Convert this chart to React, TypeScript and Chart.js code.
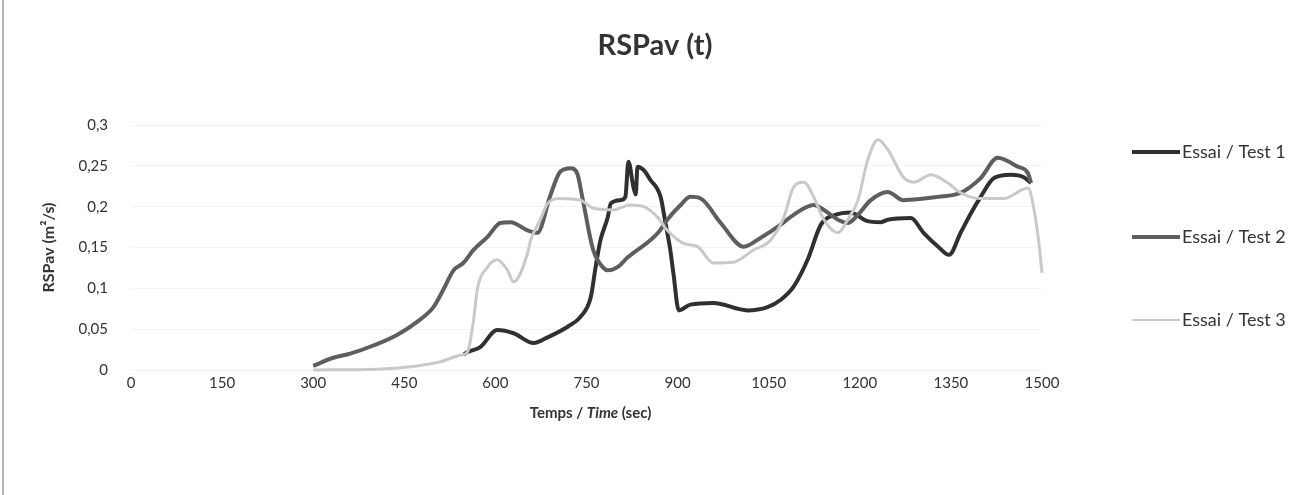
import React, { useEffect, useRef } from "react";
import { Chart, registerables } from "chart.js";

Chart.register(...registerables);

const FONT = "Lato, 'Open Sans', sans-serif";

const chartTitle = "RSPav (t)";
const seriesNames = ["Essai / Test 1", "Essai / Test 2", "Essai / Test 3"];
const seriesColors = ["#303030", "#5e5e5e", "#c9c9c9"];
const seriesWidths = [4, 4, 3];

const xTickValues = [0, 150, 300, 450, 600, 750, 900, 1050, 1200, 1350, 1500];
const yTickValues = [0, 0.05, 0.1, 0.15, 0.2, 0.25, 0.3];

const time1 = [548, 554, 575, 603, 630, 663, 686, 719, 740, 757, 765, 773, 785, 790, 806, 814, 819, 827, 831, 834, 844, 855, 872, 880, 888, 893, 902, 921, 959, 1015, 1048, 1070, 1091, 1114, 1136, 1160, 1185, 1210, 1235, 1246, 1284, 1305, 1329, 1347, 1366, 1383, 1399, 1421, 1449, 1470, 1482];
const test1 = [0.019, 0.022, 0.028, 0.049, 0.045, 0.033, 0.04, 0.053, 0.065, 0.089, 0.126, 0.159, 0.187, 0.204, 0.208, 0.212, 0.255, 0.225, 0.215, 0.249, 0.245, 0.233, 0.212, 0.18, 0.147, 0.119, 0.073, 0.08, 0.082, 0.073, 0.077, 0.086, 0.102, 0.135, 0.178, 0.19, 0.193, 0.183, 0.181, 0.184, 0.186, 0.168, 0.151, 0.141, 0.168, 0.192, 0.212, 0.235, 0.239, 0.236, 0.229];

const time2 = [300, 333, 361, 399, 438, 471, 498, 514, 531, 547, 564, 587, 608, 625, 653, 669, 691, 707, 724, 735, 743, 761, 778, 785, 801, 818, 855, 869, 883, 905, 921, 938, 971, 1009, 1037, 1070, 1091, 1124, 1141, 1164, 1180, 1197, 1218, 1246, 1272, 1329, 1366, 1399, 1427, 1460, 1477, 1482];
const test2 = [0.005, 0.015, 0.02, 0.03, 0.043, 0.059, 0.077, 0.098, 0.122, 0.131, 0.147, 0.163, 0.18, 0.181, 0.171, 0.168, 0.215, 0.243, 0.247, 0.24, 0.212, 0.147, 0.125, 0.122, 0.126, 0.138, 0.159, 0.169, 0.184, 0.202, 0.212, 0.21, 0.18, 0.151, 0.162, 0.178, 0.19, 0.202, 0.196, 0.184, 0.18, 0.19, 0.208, 0.218, 0.208, 0.212, 0.217, 0.235, 0.26, 0.249, 0.241, 0.229];

const time3 = [300, 405, 460, 509, 542, 554, 564, 570, 587, 603, 620, 630, 653, 658, 674, 686, 707, 740, 761, 794, 822, 844, 867, 883, 910, 933, 959, 992, 1025, 1053, 1075, 1091, 1108, 1124, 1141, 1164, 1180, 1197, 1213, 1230, 1246, 1272, 1289, 1317, 1345, 1366, 1399, 1437, 1477, 1487, 1495, 1500];
const test3 = [0, 0.001, 0.004, 0.01, 0.018, 0.022, 0.061, 0.098, 0.126, 0.135, 0.122, 0.108, 0.143, 0.159, 0.184, 0.204, 0.21, 0.208, 0.198, 0.196, 0.202, 0.2, 0.187, 0.171, 0.155, 0.151, 0.131, 0.132, 0.147, 0.159, 0.187, 0.224, 0.23, 0.212, 0.184, 0.168, 0.184, 0.208, 0.257, 0.282, 0.27, 0.236, 0.23, 0.239, 0.229, 0.217, 0.21, 0.21, 0.223, 0.196, 0.155, 0.119];

const times = [time1, time2, time3];
const values = [test1, test2, test3];

const fmt = (v: number) => String(Math.round(v * 100) / 100).replace(".", ",");

const titlePlugin = {
  id: "centeredTitle",
  afterDraw(chart: any) {
    const ctx = chart.ctx;
    ctx.save();
    ctx.font = `bold 29px ${FONT}`;
    ctx.fillStyle = "#333";
    ctx.textAlign = "center";
    ctx.textBaseline = "middle";
    ctx.fillText(chartTitle, chart.width / 2 - 1, 46);
    ctx.restore();
  },
};

const xTitlePlugin = {
  id: "xTitleMixed",
  afterDraw(chart: any) {
    const ctx = chart.ctx;
    const parts = [
      { t: "Temps / ", f: `bold 15px ${FONT}` },
      { t: "Time", f: `italic bold 15px ${FONT}` },
      { t: " (sec)", f: `bold 15px ${FONT}` },
    ];
    ctx.save();
    let total = 0;
    const widths = parts.map((p) => {
      ctx.font = p.f;
      const w = ctx.measureText(p.t).width;
      total += w;
      return w;
    });
    const area = chart.chartArea;
    let x = (area.left + area.right) / 2 + 4 - total / 2;
    const y = area.bottom + 43;
    ctx.fillStyle = "#333";
    ctx.textBaseline = "middle";
    ctx.textAlign = "left";
    parts.forEach((p, i) => {
      ctx.font = p.f;
      ctx.fillText(p.t, x, y);
      x += widths[i];
    });
    ctx.restore();
  },
};

const legendPlugin = {
  id: "sideLegend",
  afterDraw(chart: any) {
    const ctx = chart.ctx;
    const area = chart.chartArea;
    const baseX = area.right + 90;
    const rows = [area.top + 27, area.top + 112, area.top + 195];
    ctx.save();
    chart.data.datasets.forEach((ds: any, i: number) => {
      const y = rows[i];
      ctx.strokeStyle = ds.borderColor;
      ctx.lineWidth = i === 2 ? 2 : 4;
      ctx.beginPath();
      ctx.moveTo(baseX, y);
      ctx.lineTo(baseX + 48, y);
      ctx.stroke();
      ctx.fillStyle = "#333";
      ctx.font = `18px ${FONT}`;
      ctx.textBaseline = "middle";
      ctx.textAlign = "left";
      ctx.fillText(ds.label, baseX + 50, y);
    });
    ctx.restore();
  },
};

export default function App() {
  const ref = useRef<HTMLCanvasElement>(null);

  useEffect(() => {
    document.body.style.margin = "0";
    const canvas = ref.current;
    if (!canvas) return;
    const chart = new Chart(canvas, {
      type: "line",
      data: {
        datasets: seriesNames.map((name, i) => ({
          label: name,
          data: times[i].map((t, j) => ({ x: t, y: values[i][j] })),
          borderColor: seriesColors[i],
          backgroundColor: seriesColors[i],
          borderWidth: seriesWidths[i],
          pointRadius: 0,
          cubicInterpolationMode: "monotone" as const,
          fill: false,
          clip: 8,
          order: 3 - i,
        })),
      },
      options: {
        responsive: false,
        animation: false,
        layout: { padding: { left: 39, right: 270, top: 125, bottom: 0 } },
        plugins: {
          legend: { display: false },
          tooltip: { enabled: false },
          title: { display: false },
        },
        scales: {
          x: {
            type: "linear",
            min: 0,
            max: 1500,
            afterBuildTicks: (s: any) => {
              s.ticks = xTickValues.map((v) => ({ value: v }));
            },
            afterFit: (s: any) => {
              s.height = 125;
            },
            ticks: {
              color: "#333",
              font: { family: FONT, size: 15 },
              padding: 4,
              maxRotation: 0,
              autoSkip: false,
              callback: (v: any) => String(v),
            },
            grid: { display: false, drawTicks: false },
            border: { display: false },
          },
          y: {
            min: 0,
            max: 0.3,
            afterBuildTicks: (s: any) => {
              s.ticks = yTickValues.map((v) => ({ value: v }));
            },
            afterFit: (s: any) => {
              s.width = 92;
            },
            ticks: {
              color: "#333",
              font: { family: FONT, size: 15 },
              padding: 23,
              callback: (v: any) => fmt(Number(v)),
            },
            grid: { color: "#f3f3f3", drawTicks: false },
            border: { display: false },
            title: {
              display: true,
              text: "RSPav (m²/s)",
              color: "#333",
              font: { family: FONT, size: 16, weight: "bold" },
              padding: { top: 0, bottom: 0 },
            },
          },
        },
      },
      plugins: [titlePlugin, xTitlePlugin, legendPlugin],
    });
    return () => chart.destroy();
  }, []);

  return (
    <div style={{ position: "relative", width: 1312, height: 495, background: "#fff" }}>
      <div style={{ position: "absolute", left: 2, top: 0, width: 2, height: 495, background: "#b5b5b5" }} />
      <canvas ref={ref} width={1312} height={495} style={{ display: "block" }} />
    </div>
  );
}
